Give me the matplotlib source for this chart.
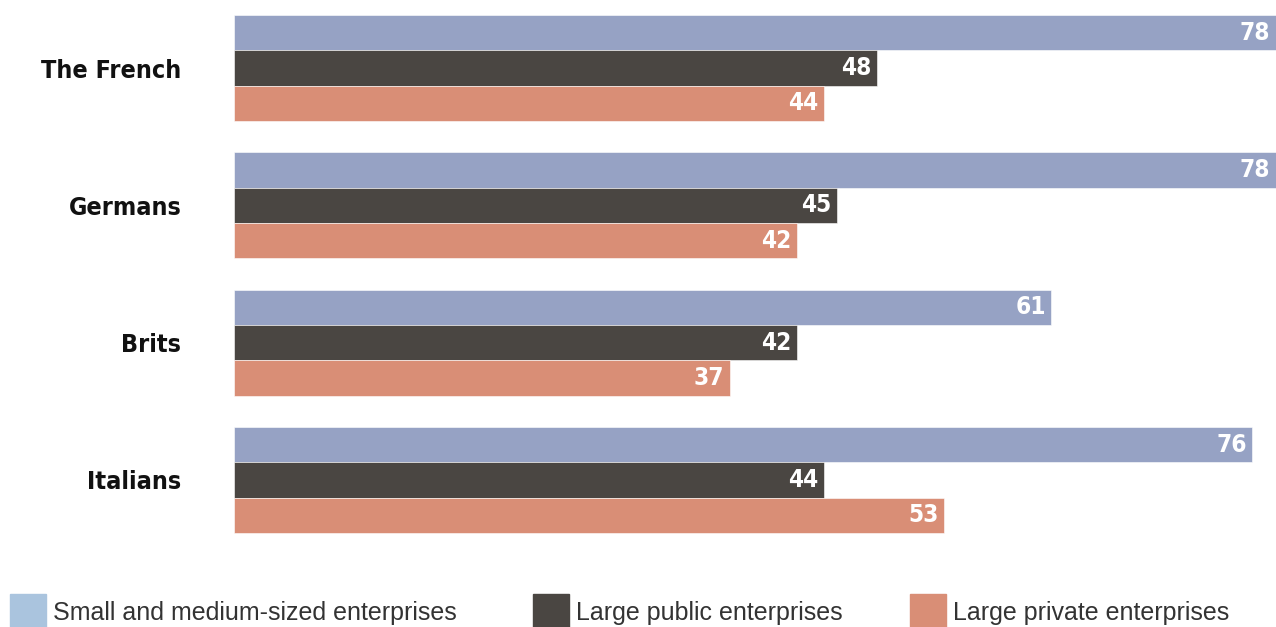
import matplotlib.pyplot as plt
from matplotlib.patches import Rectangle
import numpy as np

groups = ["The French", "Germans", "Brits", "Italians"]
series = ["Small and medium-sized enterprises", "Large public enterprises", "Large private enterprises"]
sme = [78, 78, 61, 76]
public = [48, 45, 42, 44]
private = [44, 42, 37, 53]

bar_colors = ["#96a2c4", "#4a4642", "#d98e76"]
legend_colors = ["#aac4de", "#4a4642", "#d98e76"]

fig = plt.figure(figsize=(12.76, 6.27), dpi=100)
W, H = 1276, 627
ax = fig.add_axes([234 / W, 0, 1 - 234 / W, 1])

xmax = (W - 234) / 13.4
y = np.arange(len(groups))
h = 0.257
for k, vals in enumerate([sme, public, private]):
    pos = y + (k - 1) * h
    bars = ax.barh(pos, vals, height=h, color=bar_colors[k], edgecolor="white", linewidth=0.4)
    for b, v in zip(bars, vals):
        # keep the label inside the visible part of bars that run off the edge
        ax.annotate(str(v), xy=(min(v, xmax), b.get_y() + b.get_height() / 2), xytext=(-4, 0),
                    textcoords="offset points", ha="right", va="center",
                    color="white", fontsize=17.5, fontweight="bold",
                    family="DejaVu Sans", fontstretch="condensed")

# one group per 137.3 px, first group centred at 68 px from the top
ax.set_ylim((H - 68) / 137.3, -68 / 137.3)
ax.set_xlim(0, xmax)
ax.set_yticks(y)
ax.set_yticklabels(groups, fontsize=18, fontweight="bold", family="DejaVu Sans",
                   fontstretch="condensed", color="#111111")
ax.tick_params(axis="y", length=0, pad=38)
ax.set_xticks([])
for s in ax.spines.values():
    s.set_visible(False)

# legend along the bottom edge
sw_x = [10, 533, 910]
for k, name in enumerate(series):
    fig.add_artist(Rectangle((sw_x[k] / W, (H - 630) / H), 36 / W, 36 / H,
                             transform=fig.transFigure, color=legend_colors[k]))
    fig.text((sw_x[k] + 43) / W, (H - 613) / H, name, ha="left", va="center",
             fontsize=18, color="#333333", family=["Liberation Sans", "DejaVu Sans"])

fig.savefig("out.png", dpi=100)
